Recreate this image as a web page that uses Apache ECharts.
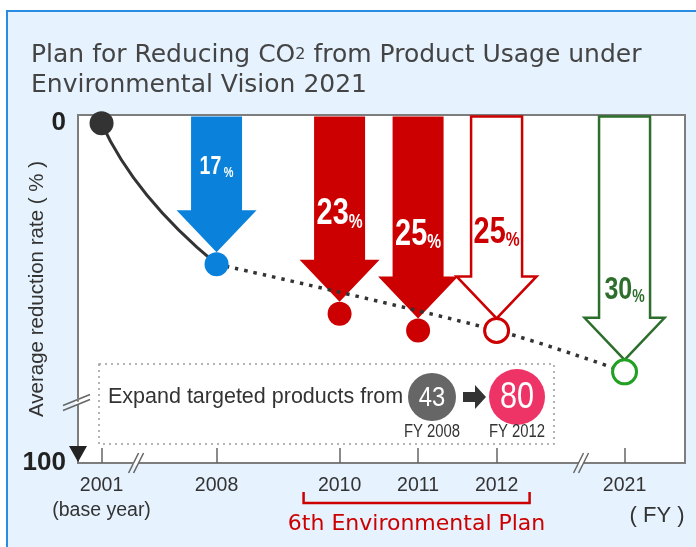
<!DOCTYPE html>
<html><head><meta charset="utf-8">
<script src="https://cdn.jsdelivr.net/npm/echarts@6/dist/echarts.min.js"></script>
<style>html,body{margin:0;padding:0;background:#fff}#c{width:696px;height:547px}</style>
</head><body><div id="c"></div>
<script>
// ---------- data ----------
const titleLines = ['Plan for Reducing CO{sub|2} from Product Usage under', 'Environmental Vision 2021'];
const years = [2001, 2008, 2010, 2011, 2012, 2021];
const yearLabels = ['2001\n(base year)', '2008', '2010', '2011', '2012', '2021'];
const reduction = [0, 17, 23, 25, 25, 30];          // average reduction rate (%)
const arrowYears = [2008, 2010, 2011, 2012, 2021];  // years with a target arrow
const planYears = [2008, 2012, 2021];               // dotted planned path
const yTickValues = [0, 100];
const yName = 'Average reduction rate ( % )';
const xUnit = '( FY )';
const boxText = 'Expand targeted products from';
const productCounts = [43, 80];
const productYears = ['FY 2008', 'FY 2012'];
const planName = '6th Environmental Plan';
const planSpan = [2010, 2012];

// ---------- styles ----------
const SANS = "'Liberation Sans',Arial,sans-serif";
const WIDE = "'DejaVu Sans',sans-serif";
const RED = '#cc0000', BLUE = '#0a82dc', DKGREEN = '#2d6e2d', GREEN = '#22a022';
const AXIS = '#7d7d7d';
const dotStyles = [
  {color: '#333', opacity: 1}, {color: BLUE, opacity: 1}, {color: RED, opacity: 1}, {color: RED, opacity: 1},
  {color: '#fff', borderColor: RED, borderWidth: 3, opacity: 1},
  {color: '#fff', borderColor: GREEN, borderWidth: 3, opacity: 1}
];
const arrowStyles = [
  {fill: BLUE, text: '#fff', size: 25, off: 85, gap: ' '},
  {fill: RED, text: '#fff', size: 37, off: 88, gap: ''},
  {fill: RED, text: '#fff', size: 37, off: 84, gap: ''},
  {stroke: RED, text: RED, size: 37, off: 86, gap: ''},
  {stroke: DKGREEN, text: DKGREEN, size: 32, off: 70, gap: ''}
];
const valOf = y => reduction[years.indexOf(y)];

const chart = echarts.init(document.getElementById('c'));
const option = {
  animation: false,
  backgroundColor: '#fff',
  title: {
    text: titleLines.join('\n'), left: 26, top: 35,
    textStyle: {fontFamily: WIDE, fontSize: 25, fontWeight: 'normal', color: '#444', lineHeight: 30,
      rich: {sub: {fontFamily: WIDE, fontSize: 16, color: '#444', lineHeight: 30}}}
  },
  grid: {left: 78, right: 11, top: 115, bottom: 84, show: true, backgroundColor: '#fff',
         borderColor: AXIS, borderWidth: 2, outerBoundsMode: 'none'},
  xAxis: {
    type: 'value', min: 2000.7, max: 2021.77,
    breaks: [{start: 2001.4, end: 2007.6, gap: 0.665},
             {start: 2008.5, end: 2009.5, gap: 0.567},
             {start: 2012.4, end: 2020.6, gap: 0.83}],
    breakArea: {show: false, expandOnClick: false},
    axisLine: {onZero: false, lineStyle: {color: AXIS, width: 2}},
    axisTick: {inside: true, length: 15, customValues: years, lineStyle: {color: '#666', width: 1.5}},
    axisLabel: {customValues: years, formatter: v => yearLabels[years.indexOf(Math.round(v))] || '',
      fontFamily: SANS, fontSize: 19.5, color: '#333', lineHeight: 25, margin: 10},
    splitLine: {show: false}
  },
  yAxis: {
    type: 'value', inverse: true, min: -1, max: 100,
    breaks: [{start: 33.5, end: 99, gap: 6.5}],
    breakArea: {show: false, expandOnClick: false},
    name: yName, nameLocation: 'middle', nameGap: 30, nameRotate: 90, nameMoveOverlap: false,
    nameTextStyle: {fontFamily: SANS, fontSize: 20.5, color: '#333'},
    axisLine: {onZero: false, lineStyle: {color: AXIS, width: 2}},
    axisTick: {show: false},
    axisLabel: {customValues: yTickValues, fontFamily: SANS, fontWeight: 'bold', fontSize: 26,
      color: '#222', margin: 12},
    splitLine: {show: false}
  },
  series: [
    { // target arrows
      type: 'custom', z: 2, silent: true,
      data: arrowYears.map(y => [y, valOf(y)]),
      renderItem(params, api) {
        const st = arrowStyles[params.dataIndex];
        const p = api.coord([api.value(0), api.value(1)]);
        const x = p[0], tip = p[1] - 12, top = params.coordSys.y + 1.5;
        const sw = 25.5, hw = 40, hh = 42;
        const pts = [[x - sw, top], [x + sw, top], [x + sw, tip - hh], [x + hw, tip - hh], [x, tip],
                     [x - hw, tip - hh], [x - sw, tip - hh]];
        return {type: 'group', children: [
          {type: 'polygon', shape: {points: pts},
           style: {fill: st.fill || '#fff', stroke: st.stroke || null, lineWidth: st.stroke ? 2.5 : 0}},
          {type: 'text', x: x, y: tip - st.off, scaleX: 0.78,
           style: {text: '{n|' + api.value(1) + '}' + st.gap + '{p|%}', align: 'center', verticalAlign: 'middle',
             rich: {n: {fontFamily: SANS, fontWeight: 'bold', fontSize: st.size, fill: st.text, verticalAlign: 'bottom'},
                    p: {fontFamily: SANS, fontWeight: 'bold', fontSize: Math.round(st.size * 0.55), fill: st.text, verticalAlign: 'bottom'}}}}
        ]};
      }
    },
    { // achieved curve 2001 -> 2008
      type: 'custom', z: 3, silent: true,
      data: [[years[0], reduction[0], years[1], reduction[1]]],
      renderItem(params, api) {
        const a = api.coord([api.value(0), api.value(1)]);
        const b = api.coord([api.value(2), api.value(3)]);
        return {type: 'bezierCurve',
          shape: {x1: a[0], y1: a[1], x2: b[0], y2: b[1],
                  cpx1: a[0] + 0.29 * (b[0] - a[0]), cpy1: a[1] + 0.52 * (b[1] - a[1])},
          style: {stroke: '#333', lineWidth: 3, fill: null}};
      }
    },
    { // planned path
      type: 'line', z: 4, silent: true, smooth: 0.35, symbol: 'none',
      data: planYears.map(y => [y, valOf(y)]),
      lineStyle: {color: '#333', width: 3.5, type: [3.5, 6], opacity: 1}
    },
    {
      type: 'scatter', z: 5, silent: true, symbolSize: 24,
      data: years.map((y, i) => ({value: [y, reduction[i]], itemStyle: dotStyles[i]}))
    }
  ]
};
chart.setOption(option);

const X = v => chart.convertToPixel({xAxisIndex: 0}, v);
const Y = v => chart.convertToPixel({yAxisIndex: 0}, v);
const x0 = X(2000.7), yBot = Y(100);

function xBreak(x, y) {
  return {type: 'group', z: 60, children: [
    {type: 'polygon', shape: {points: [[x - 3.8, y + 2.5], [x + 1.2, y + 2.5], [x + 3.8, y - 2.5], [x - 1.2, y - 2.5]]},
     style: {fill: '#fff'}},
    {type: 'line', shape: {x1: x - 7.5, y1: y + 10, x2: x + 2.5, y2: y - 10}, style: {stroke: '#666', lineWidth: 1.5}},
    {type: 'line', shape: {x1: x - 2.5, y1: y + 10, x2: x + 7.5, y2: y - 10}, style: {stroke: '#666', lineWidth: 1.5}}
  ]};
}
function yBreak(x, c) {
  const s = 11 / 27;
  return {type: 'group', z: 60, children: [
    {type: 'polygon', shape: {points: [[x - 3, c - 2.5 + 3 * s], [x + 3, c - 2.5 - 3 * s], [x + 3, c + 2.5 - 3 * s], [x - 3, c + 2.5 + 3 * s]]},
     style: {fill: '#fff'}},
    {type: 'line', shape: {x1: x - 15, y1: c - 2.5 + 15 * s, x2: x + 12, y2: c - 2.5 - 12 * s}, style: {stroke: '#666', lineWidth: 1.5}},
    {type: 'line', shape: {x1: x - 15, y1: c + 2.5 + 15 * s, x2: x + 12, y2: c + 2.5 - 12 * s}, style: {stroke: '#666', lineWidth: 1.5}}
  ]};
}
const b1 = X(2001) + 0.3 * (X(2008) - X(2001));
const b2 = X(2012) + 0.66 * (X(2021) - X(2012));
const brL = X(planSpan[0]) - 36, brR = X(planSpan[1]) + 33;
const txt = (x, y, text, size, fill, extra) => Object.assign({type: 'text', z: 22, x: x, y: y,
  style: {text: text, fontFamily: SANS, fontSize: size, fill: fill, align: 'center', verticalAlign: 'middle'}}, extra || {});

chart.setOption({graphic: [
  {type: 'rect', z: -100, silent: true, shape: {x: 7, y: 11, width: 720, height: 560},
   style: {fill: '#e6f2fd', stroke: '#2b8be0', lineWidth: 2}},
  // y-axis end triangle
  {type: 'polygon', z: 60, shape: {points: [[x0 - 9, yBot - 17], [x0 + 9, yBot - 17], [x0, yBot - 1]]}, style: {fill: '#222'}},
  xBreak(b1, yBot), xBreak(b2, yBot), yBreak(x0, Y(33.5) + 1),
  // annotation box
  {type: 'rect', z: 20, shape: {x: 99, y: 364, width: 455, height: 80},
   style: {fill: null, stroke: '#9a9a9a', lineWidth: 1.5, lineDash: [2, 4]}},
  {type: 'text', z: 21, x: 108, y: 397, style: {text: boxText, fontFamily: SANS, fontSize: 21.5, fill: '#333', align: 'left', verticalAlign: 'middle'}},
  {type: 'circle', z: 21, shape: {cx: 432, cy: 397, r: 24}, style: {fill: '#666'}},
  txt(432, 398, String(productCounts[0]), 28, '#fff', {scaleX: 0.85}),
  {type: 'polygon', z: 21, shape: {points: [[463, 392], [475, 392], [475, 385], [486, 397], [475, 409], [475, 402], [463, 402]]}, style: {fill: '#333'}},
  {type: 'circle', z: 21, shape: {cx: 517, cy: 397, r: 28}, style: {fill: '#ee3366'}},
  txt(517, 398, String(productCounts[1]), 36, '#fff', {scaleX: 0.85}),
  txt(432, 432, productYears[0], 17.5, '#333', {scaleX: 0.85}),
  txt(517, 432, productYears[1], 17.5, '#333', {scaleX: 0.85}),
  // 6th plan bracket
  {type: 'polyline', z: 21, shape: {points: [[brL, 492], [brL, 503], [brR, 503], [brR, 492]]}, style: {stroke: RED, lineWidth: 2.5, fill: null}},
  {type: 'text', z: 21, x: (brL + brR) / 2, y: 524, style: {text: planName, fontFamily: WIDE, fontSize: 22, fill: RED, align: 'center', verticalAlign: 'middle'}},
  txt(657, 516, xUnit, 22, '#333')
]});
</script></body></html>
